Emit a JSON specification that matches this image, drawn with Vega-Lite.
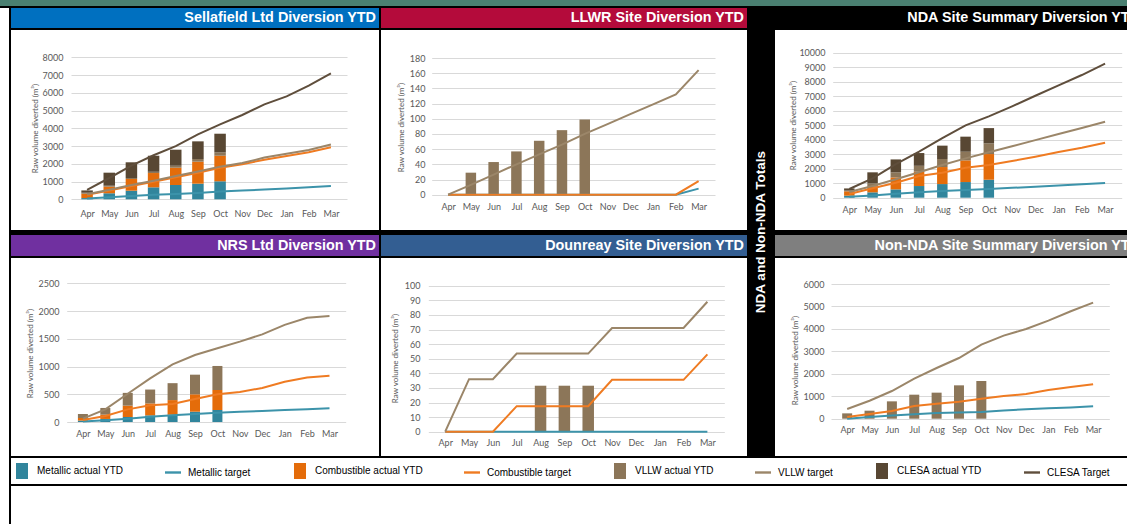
{
"$schema": "https://vega.github.io/schema/vega-lite/v6.json",
"background": "#000000",
"padding": 0,
"config": {
 "view": {"stroke": null},
 "axis": {"labelFont": "Lato", "labelFontSize": 9, "labelColor": "#595959", "domain": false, "ticks": false, "tickSize": 0, "labelFlush": false, "labelOverlap": false, "titleFont": "Lato", "titleFontSize": 8, "titleFontWeight": "normal", "titleColor": "#595959", "gridColor": "#D9D9D9", "gridWidth": 1},
 "axisX": {"grid": false, "labelPadding": 3},
 "axisY": {"grid": true, "labelPadding": 4, "titleAngle": 270, "titleAlign": "center", "titleBaseline": "middle", "format": "d"}
},
"datasets": {
 "seriesRank": [
  {"series":"Metallic actual YTD","rank":1},{"series":"Combustible actual YTD","rank":2},{"series":"VLLW actual YTD","rank":3},{"series":"CLESA actual YTD","rank":4}
 ],
 "actual": [
  {"site":"SL","m":0,"series":"Metallic actual YTD","v":70},{"site":"SL","m":0,"series":"Combustible actual YTD","v":245},{"site":"SL","m":0,"series":"VLLW actual YTD","v":55},{"site":"SL","m":0,"series":"CLESA actual YTD","v":130},
  {"site":"SL","m":1,"series":"Metallic actual YTD","v":340},{"site":"SL","m":1,"series":"Combustible actual YTD","v":370},{"site":"SL","m":1,"series":"VLLW actual YTD","v":55},{"site":"SL","m":1,"series":"CLESA actual YTD","v":735},
  {"site":"SL","m":2,"series":"Metallic actual YTD","v":485},{"site":"SL","m":2,"series":"Combustible actual YTD","v":660},{"site":"SL","m":2,"series":"VLLW actual YTD","v":55},{"site":"SL","m":2,"series":"CLESA actual YTD","v":885},
  {"site":"SL","m":3,"series":"Metallic actual YTD","v":675},{"site":"SL","m":3,"series":"Combustible actual YTD","v":805},{"site":"SL","m":3,"series":"VLLW actual YTD","v":70},{"site":"SL","m":3,"series":"CLESA actual YTD","v":905},
  {"site":"SL","m":4,"series":"Metallic actual YTD","v":805},{"site":"SL","m":4,"series":"Combustible actual YTD","v":975},{"site":"SL","m":4,"series":"VLLW actual YTD","v":110},{"site":"SL","m":4,"series":"CLESA actual YTD","v":905},
  {"site":"SL","m":5,"series":"Metallic actual YTD","v":880},{"site":"SL","m":5,"series":"Combustible actual YTD","v":1240},{"site":"SL","m":5,"series":"VLLW actual YTD","v":150},{"site":"SL","m":5,"series":"CLESA actual YTD","v":995},
  {"site":"SL","m":6,"series":"Metallic actual YTD","v":1015},{"site":"SL","m":6,"series":"Combustible actual YTD","v":1440},{"site":"SL","m":6,"series":"VLLW actual YTD","v":190},{"site":"SL","m":6,"series":"CLESA actual YTD","v":1050},
  {"site":"LL","m":1,"series":"VLLW actual YTD","v":29},{"site":"LL","m":2,"series":"VLLW actual YTD","v":43},{"site":"LL","m":3,"series":"VLLW actual YTD","v":57},{"site":"LL","m":4,"series":"VLLW actual YTD","v":71},{"site":"LL","m":5,"series":"VLLW actual YTD","v":85},{"site":"LL","m":6,"series":"VLLW actual YTD","v":99},
  {"site":"NDA","m":0,"series":"Metallic actual YTD","v":140},{"site":"NDA","m":0,"series":"Combustible actual YTD","v":300},{"site":"NDA","m":0,"series":"VLLW actual YTD","v":50},{"site":"NDA","m":0,"series":"CLESA actual YTD","v":150},
  {"site":"NDA","m":1,"series":"Metallic actual YTD","v":370},{"site":"NDA","m":1,"series":"Combustible actual YTD","v":390},{"site":"NDA","m":1,"series":"VLLW actual YTD","v":230},{"site":"NDA","m":1,"series":"CLESA actual YTD","v":760},
  {"site":"NDA","m":2,"series":"Metallic actual YTD","v":575},{"site":"NDA","m":2,"series":"Combustible actual YTD","v":825},{"site":"NDA","m":2,"series":"VLLW actual YTD","v":350},{"site":"NDA","m":2,"series":"CLESA actual YTD","v":890},
  {"site":"NDA","m":3,"series":"Metallic actual YTD","v":805},{"site":"NDA","m":3,"series":"Combustible actual YTD","v":985},{"site":"NDA","m":3,"series":"VLLW actual YTD","v":410},{"site":"NDA","m":3,"series":"CLESA actual YTD","v":880},
  {"site":"NDA","m":4,"series":"Metallic actual YTD","v":940},{"site":"NDA","m":4,"series":"Combustible actual YTD","v":1175},{"site":"NDA","m":4,"series":"VLLW actual YTD","v":555},{"site":"NDA","m":4,"series":"CLESA actual YTD","v":920},
  {"site":"NDA","m":5,"series":"Metallic actual YTD","v":1080},{"site":"NDA","m":5,"series":"Combustible actual YTD","v":1495},{"site":"NDA","m":5,"series":"VLLW actual YTD","v":595},{"site":"NDA","m":5,"series":"CLESA actual YTD","v":1040},
  {"site":"NDA","m":6,"series":"Metallic actual YTD","v":1240},{"site":"NDA","m":6,"series":"Combustible actual YTD","v":1770},{"site":"NDA","m":6,"series":"VLLW actual YTD","v":740},{"site":"NDA","m":6,"series":"CLESA actual YTD","v":1050},
  {"site":"NRS","m":0,"series":"Metallic actual YTD","v":25},{"site":"NRS","m":0,"series":"Combustible actual YTD","v":47},{"site":"NRS","m":0,"series":"VLLW actual YTD","v":72},
  {"site":"NRS","m":1,"series":"Metallic actual YTD","v":55},{"site":"NRS","m":1,"series":"Combustible actual YTD","v":78},{"site":"NRS","m":1,"series":"VLLW actual YTD","v":120},
  {"site":"NRS","m":2,"series":"Metallic actual YTD","v":90},{"site":"NRS","m":2,"series":"Combustible actual YTD","v":205},{"site":"NRS","m":2,"series":"VLLW actual YTD","v":230},
  {"site":"NRS","m":3,"series":"Metallic actual YTD","v":120},{"site":"NRS","m":3,"series":"Combustible actual YTD","v":215},{"site":"NRS","m":3,"series":"VLLW actual YTD","v":250},
  {"site":"NRS","m":4,"series":"Metallic actual YTD","v":130},{"site":"NRS","m":4,"series":"Combustible actual YTD","v":265},{"site":"NRS","m":4,"series":"VLLW actual YTD","v":305},
  {"site":"NRS","m":5,"series":"Metallic actual YTD","v":186},{"site":"NRS","m":5,"series":"Combustible actual YTD","v":313},{"site":"NRS","m":5,"series":"VLLW actual YTD","v":354},
  {"site":"NRS","m":6,"series":"Metallic actual YTD","v":216},{"site":"NRS","m":6,"series":"Combustible actual YTD","v":361},{"site":"NRS","m":6,"series":"VLLW actual YTD","v":433},
  {"site":"DR","m":4,"series":"VLLW actual YTD","v":31.5},{"site":"DR","m":5,"series":"VLLW actual YTD","v":31.5},{"site":"DR","m":6,"series":"VLLW actual YTD","v":31.5},
  {"site":"NN","m":0,"series":"VLLW actual YTD","v":238},{"site":"NN","m":1,"series":"VLLW actual YTD","v":357},{"site":"NN","m":2,"series":"VLLW actual YTD","v":773},{"site":"NN","m":3,"series":"VLLW actual YTD","v":1070},{"site":"NN","m":4,"series":"VLLW actual YTD","v":1160},{"site":"NN","m":5,"series":"VLLW actual YTD","v":1486},{"site":"NN","m":6,"series":"VLLW actual YTD","v":1680}
 ],
 "target": [
  {"site":"SL","m":0,"series":"Metallic target","v":50},{"site":"SL","m":1,"series":"Metallic target","v":120},{"site":"SL","m":2,"series":"Metallic target","v":190},{"site":"SL","m":3,"series":"Metallic target","v":250},{"site":"SL","m":4,"series":"Metallic target","v":300},{"site":"SL","m":5,"series":"Metallic target","v":360},{"site":"SL","m":6,"series":"Metallic target","v":440},{"site":"SL","m":7,"series":"Metallic target","v":490},{"site":"SL","m":8,"series":"Metallic target","v":550},{"site":"SL","m":9,"series":"Metallic target","v":610},{"site":"SL","m":10,"series":"Metallic target","v":680},{"site":"SL","m":11,"series":"Metallic target","v":750},
  {"site":"SL","m":0,"series":"Combustible target","v":250},{"site":"SL","m":1,"series":"Combustible target","v":500},{"site":"SL","m":2,"series":"Combustible target","v":750},{"site":"SL","m":3,"series":"Combustible target","v":990},{"site":"SL","m":4,"series":"Combustible target","v":1240},{"site":"SL","m":5,"series":"Combustible target","v":1500},{"site":"SL","m":6,"series":"Combustible target","v":1780},{"site":"SL","m":7,"series":"Combustible target","v":1980},{"site":"SL","m":8,"series":"Combustible target","v":2230},{"site":"SL","m":9,"series":"Combustible target","v":2440},{"site":"SL","m":10,"series":"Combustible target","v":2650},{"site":"SL","m":11,"series":"Combustible target","v":2930},
  {"site":"SL","m":0,"series":"VLLW target","v":290},{"site":"SL","m":1,"series":"VLLW target","v":540},{"site":"SL","m":2,"series":"VLLW target","v":800},{"site":"SL","m":3,"series":"VLLW target","v":1050},{"site":"SL","m":4,"series":"VLLW target","v":1310},{"site":"SL","m":5,"series":"VLLW target","v":1570},{"site":"SL","m":6,"series":"VLLW target","v":1840},{"site":"SL","m":7,"series":"VLLW target","v":2040},{"site":"SL","m":8,"series":"VLLW target","v":2350},{"site":"SL","m":9,"series":"VLLW target","v":2560},{"site":"SL","m":10,"series":"VLLW target","v":2780},{"site":"SL","m":11,"series":"VLLW target","v":3090},
  {"site":"SL","m":0,"series":"CLESA Target","v":530},{"site":"SL","m":1,"series":"CLESA Target","v":1200},{"site":"SL","m":2,"series":"CLESA Target","v":1900},{"site":"SL","m":3,"series":"CLESA Target","v":2480},{"site":"SL","m":4,"series":"CLESA Target","v":3000},{"site":"SL","m":5,"series":"CLESA Target","v":3660},{"site":"SL","m":6,"series":"CLESA Target","v":4225},{"site":"SL","m":7,"series":"CLESA Target","v":4750},{"site":"SL","m":8,"series":"CLESA Target","v":5350},{"site":"SL","m":9,"series":"CLESA Target","v":5800},{"site":"SL","m":10,"series":"CLESA Target","v":6400},{"site":"SL","m":11,"series":"CLESA Target","v":7100},
  {"site":"LL","m":0,"series":"Metallic target","v":0},{"site":"LL","m":1,"series":"Metallic target","v":0},{"site":"LL","m":2,"series":"Metallic target","v":0},{"site":"LL","m":3,"series":"Metallic target","v":0},{"site":"LL","m":4,"series":"Metallic target","v":0},{"site":"LL","m":5,"series":"Metallic target","v":0},{"site":"LL","m":6,"series":"Metallic target","v":0},{"site":"LL","m":7,"series":"Metallic target","v":0},{"site":"LL","m":8,"series":"Metallic target","v":0},{"site":"LL","m":9,"series":"Metallic target","v":0},{"site":"LL","m":10,"series":"Metallic target","v":0},{"site":"LL","m":11,"series":"Metallic target","v":8},
  {"site":"LL","m":0,"series":"Combustible target","v":0},{"site":"LL","m":1,"series":"Combustible target","v":0},{"site":"LL","m":2,"series":"Combustible target","v":0},{"site":"LL","m":3,"series":"Combustible target","v":0},{"site":"LL","m":4,"series":"Combustible target","v":0},{"site":"LL","m":5,"series":"Combustible target","v":0},{"site":"LL","m":6,"series":"Combustible target","v":0},{"site":"LL","m":7,"series":"Combustible target","v":0},{"site":"LL","m":8,"series":"Combustible target","v":0},{"site":"LL","m":9,"series":"Combustible target","v":0},{"site":"LL","m":10,"series":"Combustible target","v":0},{"site":"LL","m":11,"series":"Combustible target","v":18},
  {"site":"LL","m":0,"series":"VLLW target","v":0},{"site":"LL","m":1,"series":"VLLW target","v":13},{"site":"LL","m":2,"series":"VLLW target","v":26.5},{"site":"LL","m":3,"series":"VLLW target","v":40},{"site":"LL","m":4,"series":"VLLW target","v":53},{"site":"LL","m":5,"series":"VLLW target","v":66},{"site":"LL","m":6,"series":"VLLW target","v":80},{"site":"LL","m":7,"series":"VLLW target","v":93},{"site":"LL","m":8,"series":"VLLW target","v":106},{"site":"LL","m":9,"series":"VLLW target","v":119},{"site":"LL","m":10,"series":"VLLW target","v":132},{"site":"LL","m":11,"series":"VLLW target","v":164},
  {"site":"NDA","m":0,"series":"Metallic target","v":70},{"site":"NDA","m":1,"series":"Metallic target","v":160},{"site":"NDA","m":2,"series":"Metallic target","v":275},{"site":"NDA","m":3,"series":"Metallic target","v":370},{"site":"NDA","m":4,"series":"Metallic target","v":460},{"site":"NDA","m":5,"series":"Metallic target","v":530},{"site":"NDA","m":6,"series":"Metallic target","v":600},{"site":"NDA","m":7,"series":"Metallic target","v":680},{"site":"NDA","m":8,"series":"Metallic target","v":760},{"site":"NDA","m":9,"series":"Metallic target","v":840},{"site":"NDA","m":10,"series":"Metallic target","v":925},{"site":"NDA","m":11,"series":"Metallic target","v":1010},
  {"site":"NDA","m":0,"series":"Combustible target","v":255},{"site":"NDA","m":1,"series":"Combustible target","v":650},{"site":"NDA","m":2,"series":"Combustible target","v":1035},{"site":"NDA","m":3,"series":"Combustible target","v":1500},{"site":"NDA","m":4,"series":"Combustible target","v":1725},{"site":"NDA","m":5,"series":"Combustible target","v":2070},{"site":"NDA","m":6,"series":"Combustible target","v":2250},{"site":"NDA","m":7,"series":"Combustible target","v":2530},{"site":"NDA","m":8,"series":"Combustible target","v":2830},{"site":"NDA","m":9,"series":"Combustible target","v":3150},{"site":"NDA","m":10,"series":"Combustible target","v":3450},{"site":"NDA","m":11,"series":"Combustible target","v":3790},
  {"site":"NDA","m":0,"series":"VLLW target","v":390},{"site":"NDA","m":1,"series":"VLLW target","v":810},{"site":"NDA","m":2,"series":"VLLW target","v":1270},{"site":"NDA","m":3,"series":"VLLW target","v":1750},{"site":"NDA","m":4,"series":"VLLW target","v":2250},{"site":"NDA","m":5,"series":"VLLW target","v":2710},{"site":"NDA","m":6,"series":"VLLW target","v":3130},{"site":"NDA","m":7,"series":"VLLW target","v":3550},{"site":"NDA","m":8,"series":"VLLW target","v":3970},{"site":"NDA","m":9,"series":"VLLW target","v":4390},{"site":"NDA","m":10,"series":"VLLW target","v":4810},{"site":"NDA","m":11,"series":"VLLW target","v":5240},
  {"site":"NDA","m":0,"series":"CLESA Target","v":600},{"site":"NDA","m":1,"series":"CLESA Target","v":1330},{"site":"NDA","m":2,"series":"CLESA Target","v":2320},{"site":"NDA","m":3,"series":"CLESA Target","v":3170},{"site":"NDA","m":4,"series":"CLESA Target","v":4110},{"site":"NDA","m":5,"series":"CLESA Target","v":4990},{"site":"NDA","m":6,"series":"CLESA Target","v":5610},{"site":"NDA","m":7,"series":"CLESA Target","v":6300},{"site":"NDA","m":8,"series":"CLESA Target","v":7030},{"site":"NDA","m":9,"series":"CLESA Target","v":7750},{"site":"NDA","m":10,"series":"CLESA Target","v":8460},{"site":"NDA","m":11,"series":"CLESA Target","v":9240},
  {"site":"NRS","m":0,"series":"Metallic target","v":10},{"site":"NRS","m":1,"series":"Metallic target","v":30},{"site":"NRS","m":2,"series":"Metallic target","v":60},{"site":"NRS","m":3,"series":"Metallic target","v":96},{"site":"NRS","m":4,"series":"Metallic target","v":120},{"site":"NRS","m":5,"series":"Metallic target","v":144},{"site":"NRS","m":6,"series":"Metallic target","v":168},{"site":"NRS","m":7,"series":"Metallic target","v":185},{"site":"NRS","m":8,"series":"Metallic target","v":200},{"site":"NRS","m":9,"series":"Metallic target","v":215},{"site":"NRS","m":10,"series":"Metallic target","v":230},{"site":"NRS","m":11,"series":"Metallic target","v":247},
  {"site":"NRS","m":0,"series":"Combustible target","v":36},{"site":"NRS","m":1,"series":"Combustible target","v":108},{"site":"NRS","m":2,"series":"Combustible target","v":228},{"site":"NRS","m":3,"series":"Combustible target","v":300},{"site":"NRS","m":4,"series":"Combustible target","v":325},{"site":"NRS","m":5,"series":"Combustible target","v":415},{"site":"NRS","m":6,"series":"Combustible target","v":500},{"site":"NRS","m":7,"series":"Combustible target","v":541},{"site":"NRS","m":8,"series":"Combustible target","v":613},{"site":"NRS","m":9,"series":"Combustible target","v":727},{"site":"NRS","m":10,"series":"Combustible target","v":800},{"site":"NRS","m":11,"series":"Combustible target","v":835},
  {"site":"NRS","m":0,"series":"VLLW target","v":60},{"site":"NRS","m":1,"series":"VLLW target","v":228},{"site":"NRS","m":2,"series":"VLLW target","v":510},{"site":"NRS","m":3,"series":"VLLW target","v":787},{"site":"NRS","m":4,"series":"VLLW target","v":1040},{"site":"NRS","m":5,"series":"VLLW target","v":1208},{"site":"NRS","m":6,"series":"VLLW target","v":1328},{"site":"NRS","m":7,"series":"VLLW target","v":1448},{"site":"NRS","m":8,"series":"VLLW target","v":1580},{"site":"NRS","m":9,"series":"VLLW target","v":1750},{"site":"NRS","m":10,"series":"VLLW target","v":1880},{"site":"NRS","m":11,"series":"VLLW target","v":1911},
  {"site":"DR","m":0,"series":"Metallic target","v":0},{"site":"DR","m":1,"series":"Metallic target","v":0},{"site":"DR","m":2,"series":"Metallic target","v":0},{"site":"DR","m":3,"series":"Metallic target","v":0},{"site":"DR","m":4,"series":"Metallic target","v":0},{"site":"DR","m":5,"series":"Metallic target","v":0},{"site":"DR","m":6,"series":"Metallic target","v":0},{"site":"DR","m":7,"series":"Metallic target","v":0},{"site":"DR","m":8,"series":"Metallic target","v":0},{"site":"DR","m":9,"series":"Metallic target","v":0},{"site":"DR","m":10,"series":"Metallic target","v":0},{"site":"DR","m":11,"series":"Metallic target","v":0},
  {"site":"DR","m":0,"series":"Combustible target","v":0},{"site":"DR","m":1,"series":"Combustible target","v":0},{"site":"DR","m":2,"series":"Combustible target","v":0},{"site":"DR","m":3,"series":"Combustible target","v":17.5},{"site":"DR","m":4,"series":"Combustible target","v":17.5},{"site":"DR","m":5,"series":"Combustible target","v":17.5},{"site":"DR","m":6,"series":"Combustible target","v":17.5},{"site":"DR","m":7,"series":"Combustible target","v":35.5},{"site":"DR","m":8,"series":"Combustible target","v":35.5},{"site":"DR","m":9,"series":"Combustible target","v":35.5},{"site":"DR","m":10,"series":"Combustible target","v":35.5},{"site":"DR","m":11,"series":"Combustible target","v":53},
  {"site":"DR","m":0,"series":"VLLW target","v":0},{"site":"DR","m":1,"series":"VLLW target","v":36},{"site":"DR","m":2,"series":"VLLW target","v":36},{"site":"DR","m":3,"series":"VLLW target","v":53.5},{"site":"DR","m":4,"series":"VLLW target","v":53.5},{"site":"DR","m":5,"series":"VLLW target","v":53.5},{"site":"DR","m":6,"series":"VLLW target","v":53.5},{"site":"DR","m":7,"series":"VLLW target","v":71},{"site":"DR","m":8,"series":"VLLW target","v":71},{"site":"DR","m":9,"series":"VLLW target","v":71},{"site":"DR","m":10,"series":"VLLW target","v":71},{"site":"DR","m":11,"series":"VLLW target","v":89},
  {"site":"NN","m":0,"series":"Metallic target","v":0},{"site":"NN","m":1,"series":"Metallic target","v":80},{"site":"NN","m":2,"series":"Metallic target","v":140},{"site":"NN","m":3,"series":"Metallic target","v":200},{"site":"NN","m":4,"series":"Metallic target","v":250},{"site":"NN","m":5,"series":"Metallic target","v":280},{"site":"NN","m":6,"series":"Metallic target","v":300},{"site":"NN","m":7,"series":"Metallic target","v":370},{"site":"NN","m":8,"series":"Metallic target","v":420},{"site":"NN","m":9,"series":"Metallic target","v":460},{"site":"NN","m":10,"series":"Metallic target","v":500},{"site":"NN","m":11,"series":"Metallic target","v":550},
  {"site":"NN","m":0,"series":"Combustible target","v":74},{"site":"NN","m":1,"series":"Combustible target","v":208},{"site":"NN","m":2,"series":"Combustible target","v":342},{"site":"NN","m":3,"series":"Combustible target","v":565},{"site":"NN","m":4,"series":"Combustible target","v":669},{"site":"NN","m":5,"series":"Combustible target","v":758},{"site":"NN","m":6,"series":"Combustible target","v":892},{"site":"NN","m":7,"series":"Combustible target","v":1010},{"site":"NN","m":8,"series":"Combustible target","v":1100},{"site":"NN","m":9,"series":"Combustible target","v":1278},{"site":"NN","m":10,"series":"Combustible target","v":1412},{"site":"NN","m":11,"series":"Combustible target","v":1530},
  {"site":"NN","m":0,"series":"VLLW target","v":430},{"site":"NN","m":1,"series":"VLLW target","v":800},{"site":"NN","m":2,"series":"VLLW target","v":1233},{"site":"NN","m":3,"series":"VLLW target","v":1783},{"site":"NN","m":4,"series":"VLLW target","v":2258},{"site":"NN","m":5,"series":"VLLW target","v":2704},{"site":"NN","m":6,"series":"VLLW target","v":3298},{"site":"NN","m":7,"series":"VLLW target","v":3700},{"site":"NN","m":8,"series":"VLLW target","v":3997},{"site":"NN","m":9,"series":"VLLW target","v":4368},{"site":"NN","m":10,"series":"VLLW target","v":4785},{"site":"NN","m":11,"series":"VLLW target","v":5171}
 ],
 "legendItems": [
  {"series":"Metallic actual YTD"},{"series":"Metallic target"},{"series":"Combustible actual YTD"},{"series":"Combustible target"},{"series":"VLLW actual YTD"},{"series":"VLLW target"},{"series":"CLESA actual YTD"},{"series":"CLESA Target"}
 ]
},
"spacing": 2,
"resolve": {"scale": {"color": "independent", "shape": "independent"}, "legend": {"color": "independent", "shape": "independent"}},
"vconcat": [
 {"width": 1127, "height": 6, "view": {"fill": "#4A8071", "stroke": null}, "data": {"values": []}, "mark": {"type": "text"}, "encoding": {"text": {"value": ""}}},
 {"spacing": 2,
  "resolve": {"scale": {"color": "independent", "shape": "independent"}, "legend": {"color": "independent", "shape": "independent"}},
  "hconcat": [
  {"width": 9, "height": 516, "view": {"fill": "#FFFFFF", "stroke": null}, "data": {"values": []}, "mark": {"type": "text"}, "encoding": {"text": {"value": ""}}},
  {"spacing": 2,
   "resolve": {"scale": {"color": "independent", "shape": "independent"}, "legend": {"color": "independent", "shape": "independent"}},
   "vconcat": [
   {"spacing": 2, "hconcat": [
    {"spacing": 2, "vconcat": [
     {"width": 368, "height": 20, "view": {"fill": "#0070C0", "stroke": null}, "data": {"values": [{"t": "Sellafield Ltd Diversion YTD"}]}, "mark": {"type": "text", "align": "right", "baseline": "middle", "dx": -3, "font": "Liberation Sans", "fontWeight": "bold", "fontSize": 14.4, "color": "#FFFFFF", "clip": true}, "encoding": {"text": {"field": "t"}, "x": {"value": "width"}}},
     {"width": 368, "height": 200, "view": {"fill": "#FFFFFF", "stroke": null},
      "encoding": {
       "x": {"field": "m", "type": "quantitative", "scale": {"domain": [-0.5, 11.5], "range": [60, 336], "nice": false, "zero": false}, "axis": {"title": null, "offset": -23.5, "values": [0,1,2,3,4,5,6,7,8,9,10,11], "labelExpr": "['Apr','May','Jun','Jul','Aug','Sep','Oct','Nov','Dec','Jan','Feb','Mar'][datum.value]"}},
       "y": {"field": "v", "type": "quantitative", "scale": {"domain": [0, 8000], "range": [169.3, 27.3], "nice": false, "zero": false}, "axis": {"title": "Raw volume diverted (m³)", "offset": -56, "values": [0,1000,2000,3000,4000,5000,6000,7000,8000], "titleX": -32, "titleY": 98}}
      },
      "layer": [
       {"data": {"name": "actual"}, "transform": [{"filter": "datum.site === 'SL'"}, {"lookup": "series", "from": {"data": {"name": "seriesRank"}, "key": "series", "fields": ["rank"]}}], "mark": {"type": "bar", "width": 11.5}, "encoding": {"order": {"field": "rank", "type": "quantitative"}, "color": {"field": "series", "type": "nominal", "scale": {"domain": ["Metallic actual YTD","Metallic target","Combustible actual YTD","Combustible target","VLLW actual YTD","VLLW target","CLESA actual YTD","CLESA Target"], "range": ["#31859C","#3C93AA","#E46C0A","#EF7B22","#8C7659","#9B8669","#584733","#5F4E3C"]}, "legend": null}}},
       {"data": {"name": "target"}, "transform": [{"filter": "datum.site === 'SL'"}], "mark": {"type": "line", "strokeWidth": 2}, "encoding": {"color": {"field": "series", "type": "nominal", "scale": {"domain": ["Metallic actual YTD","Metallic target","Combustible actual YTD","Combustible target","VLLW actual YTD","VLLW target","CLESA actual YTD","CLESA Target"], "range": ["#31859C","#3C93AA","#E46C0A","#EF7B22","#8C7659","#9B8669","#584733","#5F4E3C"]}, "legend": null}}}
      ]},
     {"width": 368, "height": 1, "view": {"fill": "#000000", "stroke": null}, "data": {"values": []}, "mark": {"type": "text"}, "encoding": {"text": {"value": ""}}},
     {"width": 368, "height": 21, "view": {"fill": "#7030A0", "stroke": null}, "data": {"values": [{"t": "NRS Ltd Diversion YTD"}]}, "mark": {"type": "text", "align": "right", "baseline": "middle", "dx": -3, "font": "Liberation Sans", "fontWeight": "bold", "fontSize": 14.4, "color": "#FFFFFF", "clip": true}, "encoding": {"text": {"field": "t"}, "x": {"value": "width"}}},
     {"width": 368, "height": 198, "view": {"fill": "#FFFFFF", "stroke": null},
      "encoding": {
       "x": {"field": "m", "type": "quantitative", "scale": {"domain": [-0.5, 11.5], "range": [55.7, 334.7], "nice": false, "zero": false}, "axis": {"title": null, "offset": -29.5, "values": [0,1,2,3,4,5,6,7,8,9,10,11], "labelExpr": "['Apr','May','Jun','Jul','Aug','Sep','Oct','Nov','Dec','Jan','Feb','Mar'][datum.value]"}},
       "y": {"field": "v", "type": "quantitative", "scale": {"domain": [0, 2500], "range": [164, 25.3], "nice": false, "zero": false}, "axis": {"title": "Raw volume diverted (m³)", "offset": -52, "values": [0,500,1000,1500,2000,2500], "titleX": -33, "titleY": 95}}
      },
      "layer": [
       {"data": {"name": "actual"}, "transform": [{"filter": "datum.site === 'NRS'"}, {"lookup": "series", "from": {"data": {"name": "seriesRank"}, "key": "series", "fields": ["rank"]}}], "mark": {"type": "bar", "width": 10}, "encoding": {"order": {"field": "rank", "type": "quantitative"}, "color": {"field": "series", "type": "nominal", "scale": {"domain": ["Metallic actual YTD","Metallic target","Combustible actual YTD","Combustible target","VLLW actual YTD","VLLW target","CLESA actual YTD","CLESA Target"], "range": ["#31859C","#3C93AA","#E46C0A","#EF7B22","#8C7659","#9B8669","#584733","#5F4E3C"]}, "legend": null}}},
       {"data": {"name": "target"}, "transform": [{"filter": "datum.site === 'NRS'"}], "mark": {"type": "line", "strokeWidth": 2}, "encoding": {"color": {"field": "series", "type": "nominal", "scale": {"domain": ["Metallic actual YTD","Metallic target","Combustible actual YTD","Combustible target","VLLW actual YTD","VLLW target","CLESA actual YTD","CLESA Target"], "range": ["#31859C","#3C93AA","#E46C0A","#EF7B22","#8C7659","#9B8669","#584733","#5F4E3C"]}, "legend": null}}}
      ]}
    ]},
    {"spacing": 2, "vconcat": [
     {"width": 366, "height": 20, "view": {"fill": "#B40B3B", "stroke": null}, "data": {"values": [{"t": "LLWR Site Diversion YTD"}]}, "mark": {"type": "text", "align": "right", "baseline": "middle", "dx": -3, "font": "Liberation Sans", "fontWeight": "bold", "fontSize": 14.4, "color": "#FFFFFF", "clip": true}, "encoding": {"text": {"field": "t"}, "x": {"value": "width"}}},
     {"width": 366, "height": 200, "view": {"fill": "#FFFFFF", "stroke": null},
      "encoding": {
       "x": {"field": "m", "type": "quantitative", "scale": {"domain": [-0.5, 11.5], "range": [50.7, 334], "nice": false, "zero": false}, "axis": {"title": null, "offset": -30.5, "values": [0,1,2,3,4,5,6,7,8,9,10,11], "labelExpr": "['Apr','May','Jun','Jul','Aug','Sep','Oct','Nov','Dec','Jan','Feb','Mar'][datum.value]"}},
       "y": {"field": "v", "type": "quantitative", "scale": {"domain": [0, 180], "range": [164.7, 28], "nice": false, "zero": false}, "axis": {"title": "Raw volume diverted (m³)", "offset": -48, "values": [0,20,40,60,80,100,120,140,160,180], "titleX": -28, "titleY": 97}}
      },
      "layer": [
       {"data": {"name": "actual"}, "transform": [{"filter": "datum.site === 'LL'"}, {"lookup": "series", "from": {"data": {"name": "seriesRank"}, "key": "series", "fields": ["rank"]}}], "mark": {"type": "bar", "width": 10.5}, "encoding": {"order": {"field": "rank", "type": "quantitative"}, "color": {"field": "series", "type": "nominal", "scale": {"domain": ["Metallic actual YTD","Metallic target","Combustible actual YTD","Combustible target","VLLW actual YTD","VLLW target","CLESA actual YTD","CLESA Target"], "range": ["#31859C","#3C93AA","#E46C0A","#EF7B22","#8C7659","#9B8669","#584733","#5F4E3C"]}, "legend": null}}},
       {"data": {"name": "target"}, "transform": [{"filter": "datum.site === 'LL'"}], "mark": {"type": "line", "strokeWidth": 2}, "encoding": {"color": {"field": "series", "type": "nominal", "scale": {"domain": ["Metallic actual YTD","Metallic target","Combustible actual YTD","Combustible target","VLLW actual YTD","VLLW target","CLESA actual YTD","CLESA Target"], "range": ["#31859C","#3C93AA","#E46C0A","#EF7B22","#8C7659","#9B8669","#584733","#5F4E3C"]}, "legend": null}}}
      ]},
     {"width": 366, "height": 1, "view": {"fill": "#000000", "stroke": null}, "data": {"values": []}, "mark": {"type": "text"}, "encoding": {"text": {"value": ""}}},
     {"width": 366, "height": 21, "view": {"fill": "#335E92", "stroke": null}, "data": {"values": [{"t": "Dounreay Site Diversion YTD"}]}, "mark": {"type": "text", "align": "right", "baseline": "middle", "dx": -3, "font": "Liberation Sans", "fontWeight": "bold", "fontSize": 14.4, "color": "#FFFFFF", "clip": true}, "encoding": {"text": {"field": "t"}, "x": {"value": "width"}}},
     {"width": 366, "height": 198, "view": {"fill": "#FFFFFF", "stroke": null},
      "encoding": {
       "x": {"field": "m", "type": "quantitative", "scale": {"domain": [-0.5, 11.5], "range": [47.3, 343.3], "nice": false, "zero": false}, "axis": {"title": null, "offset": -20.5, "values": [0,1,2,3,4,5,6,7,8,9,10,11], "labelExpr": "['Apr','May','Jun','Jul','Aug','Sep','Oct','Nov','Dec','Jan','Feb','Mar'][datum.value]"}},
       "y": {"field": "v", "type": "quantitative", "scale": {"domain": [0, 100], "range": [173.7, 27.7], "nice": false, "zero": false}, "axis": {"title": "Raw volume diverted (m³)", "offset": -43, "values": [0,10,20,30,40,50,60,70,80,90,100], "titleX": -29, "titleY": 100}}
      },
      "layer": [
       {"data": {"name": "actual"}, "transform": [{"filter": "datum.site === 'DR'"}, {"lookup": "series", "from": {"data": {"name": "seriesRank"}, "key": "series", "fields": ["rank"]}}], "mark": {"type": "bar", "width": 11.5}, "encoding": {"order": {"field": "rank", "type": "quantitative"}, "color": {"field": "series", "type": "nominal", "scale": {"domain": ["Metallic actual YTD","Metallic target","Combustible actual YTD","Combustible target","VLLW actual YTD","VLLW target","CLESA actual YTD","CLESA Target"], "range": ["#31859C","#3C93AA","#E46C0A","#EF7B22","#8C7659","#9B8669","#584733","#5F4E3C"]}, "legend": null}}},
       {"data": {"name": "target"}, "transform": [{"filter": "datum.site === 'DR'"}], "mark": {"type": "line", "strokeWidth": 2}, "encoding": {"color": {"field": "series", "type": "nominal", "scale": {"domain": ["Metallic actual YTD","Metallic target","Combustible actual YTD","Combustible target","VLLW actual YTD","VLLW target","CLESA actual YTD","CLESA Target"], "range": ["#31859C","#3C93AA","#E46C0A","#EF7B22","#8C7659","#9B8669","#584733","#5F4E3C"]}, "legend": null}}}
      ]}
    ]},
    {"width": 24, "height": 448, "view": {"fill": "#000000", "stroke": null}, "data": {"values": [{"t": "NDA and Non-NDA Totals"}]}, "mark": {"type": "text", "angle": 270, "align": "center", "baseline": "middle", "font": "Liberation Sans", "fontWeight": "bold", "fontSize": 13.5, "color": "#FFFFFF"}, "encoding": {"text": {"field": "t"}}},
    {"spacing": 2, "vconcat": [
     {"width": 352, "height": 20, "view": {"fill": "#000000", "stroke": null}, "data": {"values": [{"t": "NDA Site Summary Diversion YTD"}]}, "mark": {"type": "text", "align": "right", "baseline": "middle", "dx": 13, "font": "Liberation Sans", "fontWeight": "bold", "fontSize": 14.4, "color": "#FFFFFF", "clip": true}, "encoding": {"text": {"field": "t"}, "x": {"value": "width"}}},
     {"width": 352, "height": 200, "view": {"fill": "#FFFFFF", "stroke": null},
      "encoding": {
       "x": {"field": "m", "type": "quantitative", "scale": {"domain": [-0.5, 11.5], "range": [57.7, 346.7], "nice": false, "zero": false}, "axis": {"title": null, "offset": -27.5, "values": [0,1,2,3,4,5,6,7,8,9,10,11], "labelExpr": "['Apr','May','Jun','Jul','Aug','Sep','Oct','Nov','Dec','Jan','Feb','Mar'][datum.value]"}},
       "y": {"field": "v", "type": "quantitative", "scale": {"domain": [0, 10000], "range": [167.7, 22.7], "nice": false, "zero": false}, "axis": {"title": "Raw volume diverted (m³)", "offset": -54, "values": [0,1000,2000,3000,4000,5000,6000,7000,8000,9000,10000], "titleX": -36, "titleY": 95}}
      },
      "layer": [
       {"data": {"name": "actual"}, "transform": [{"filter": "datum.site === 'NDA'"}, {"lookup": "series", "from": {"data": {"name": "seriesRank"}, "key": "series", "fields": ["rank"]}}], "mark": {"type": "bar", "width": 10.5}, "encoding": {"order": {"field": "rank", "type": "quantitative"}, "color": {"field": "series", "type": "nominal", "scale": {"domain": ["Metallic actual YTD","Metallic target","Combustible actual YTD","Combustible target","VLLW actual YTD","VLLW target","CLESA actual YTD","CLESA Target"], "range": ["#31859C","#3C93AA","#E46C0A","#EF7B22","#8C7659","#9B8669","#584733","#5F4E3C"]}, "legend": null}}},
       {"data": {"name": "target"}, "transform": [{"filter": "datum.site === 'NDA'"}], "mark": {"type": "line", "strokeWidth": 2}, "encoding": {"color": {"field": "series", "type": "nominal", "scale": {"domain": ["Metallic actual YTD","Metallic target","Combustible actual YTD","Combustible target","VLLW actual YTD","VLLW target","CLESA actual YTD","CLESA Target"], "range": ["#31859C","#3C93AA","#E46C0A","#EF7B22","#8C7659","#9B8669","#584733","#5F4E3C"]}, "legend": null}}}
      ]},
     {"width": 352, "height": 1, "view": {"fill": "#000000", "stroke": null}, "data": {"values": []}, "mark": {"type": "text"}, "encoding": {"text": {"value": ""}}},
     {"width": 352, "height": 21, "view": {"fill": "#7F7F7F", "stroke": null}, "data": {"values": [{"t": "Non-NDA Site Summary Diversion YTD"}]}, "mark": {"type": "text", "align": "right", "baseline": "middle", "dx": 13, "font": "Liberation Sans", "fontWeight": "bold", "fontSize": 14.4, "color": "#FFFFFF", "clip": true}, "encoding": {"text": {"field": "t"}, "x": {"value": "width"}}},
     {"width": 352, "height": 198, "view": {"fill": "#FFFFFF", "stroke": null},
      "encoding": {
       "x": {"field": "m", "type": "quantitative", "scale": {"domain": [-0.5, 11.5], "range": [56, 334.3], "nice": false, "zero": false}, "axis": {"title": null, "offset": -33.5, "values": [0,1,2,3,4,5,6,7,8,9,10,11], "labelExpr": "['Apr','May','Jun','Jul','Aug','Sep','Oct','Nov','Dec','Jan','Feb','Mar'][datum.value]"}},
       "y": {"field": "v", "type": "quantitative", "scale": {"domain": [0, 6000], "range": [160.7, 26], "nice": false, "zero": false}, "axis": {"title": "Raw volume diverted (m³)", "offset": -53, "values": [0,1000,2000,3000,4000,5000,6000], "titleX": -33, "titleY": 102}}
      },
      "layer": [
       {"data": {"name": "actual"}, "transform": [{"filter": "datum.site === 'NN'"}, {"lookup": "series", "from": {"data": {"name": "seriesRank"}, "key": "series", "fields": ["rank"]}}], "mark": {"type": "bar", "width": 10}, "encoding": {"order": {"field": "rank", "type": "quantitative"}, "color": {"field": "series", "type": "nominal", "scale": {"domain": ["Metallic actual YTD","Metallic target","Combustible actual YTD","Combustible target","VLLW actual YTD","VLLW target","CLESA actual YTD","CLESA Target"], "range": ["#31859C","#3C93AA","#E46C0A","#EF7B22","#8C7659","#9B8669","#584733","#5F4E3C"]}, "legend": null}}},
       {"data": {"name": "target"}, "transform": [{"filter": "datum.site === 'NN'"}], "mark": {"type": "line", "strokeWidth": 2}, "encoding": {"color": {"field": "series", "type": "nominal", "scale": {"domain": ["Metallic actual YTD","Metallic target","Combustible actual YTD","Combustible target","VLLW actual YTD","VLLW target","CLESA actual YTD","CLESA Target"], "range": ["#31859C","#3C93AA","#E46C0A","#EF7B22","#8C7659","#9B8669","#584733","#5F4E3C"]}, "legend": null}}}
      ]}
    ]}
   ]},
   {"width": 1116, "height": 26, "view": {"fill": "#FFFFFF", "stroke": null}, "data": {"name": "legendItems"},
    "mark": {"type": "point", "filled": true, "opacity": 0},
    "encoding": {
     "color": {"field": "series", "type": "nominal", "scale": {"domain": ["Metallic actual YTD","Metallic target","Combustible actual YTD","Combustible target","VLLW actual YTD","VLLW target","CLESA actual YTD","CLESA Target"], "range": ["#31859C","#3C93AA","#E46C0A","#EF7B22","#8C7659","#9B8669","#584733","#5F4E3C"]},
      "legend": {"orient": "none", "legendX": 3, "legendY": 5, "direction": "horizontal", "columns": 8, "title": null, "symbolSize": 256, "symbolOpacity": 1, "symbolStrokeWidth": 0, "labelFont": "Liberation Sans", "labelFontSize": 10, "labelColor": "#000000", "labelOffset": 7, "columnPadding": 41, "labelLimit": 300}},
     "shape": {"field": "series", "type": "nominal", "scale": {"domain": ["Metallic actual YTD","Metallic target","Combustible actual YTD","Combustible target","VLLW actual YTD","VLLW target","CLESA actual YTD","CLESA Target"], "range": ["M-0.75,-1H0.75V1H-0.75Z","M-1,-0.15H1V0.15H-1Z","M-0.75,-1H0.75V1H-0.75Z","M-1,-0.15H1V0.15H-1Z","M-0.75,-1H0.75V1H-0.75Z","M-1,-0.15H1V0.15H-1Z","M-0.75,-1H0.75V1H-0.75Z","M-1,-0.15H1V0.15H-1Z"]},
      "legend": {"orient": "none", "legendX": 3, "legendY": 5, "direction": "horizontal", "columns": 8, "title": null, "symbolSize": 256, "symbolOpacity": 1, "symbolStrokeWidth": 0, "labelFont": "Liberation Sans", "labelFontSize": 10, "labelColor": "#000000", "labelOffset": 7, "columnPadding": 41, "labelLimit": 300}}
    }},
   {"width": 1116, "height": 38, "view": {"fill": "#FFFFFF", "stroke": null}, "data": {"values": []}, "mark": {"type": "text"}, "encoding": {"text": {"value": ""}}}
  ]}
 ]}
]
}
